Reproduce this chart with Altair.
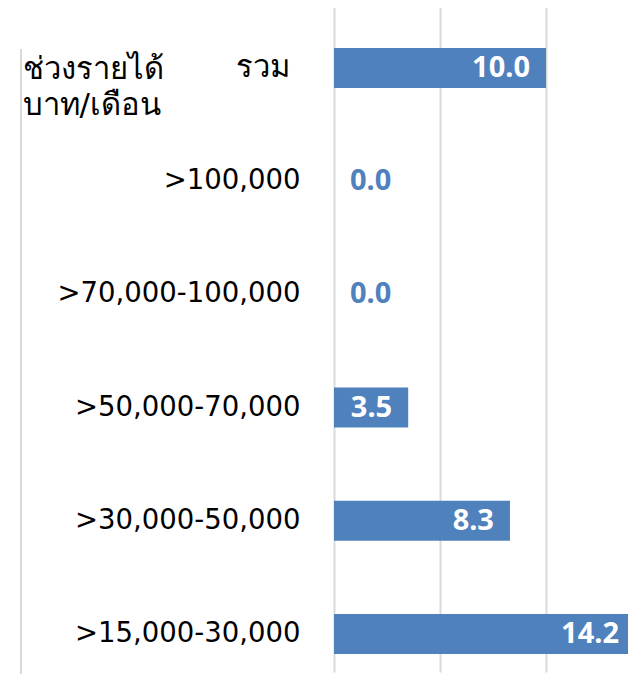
import altair as alt
import pandas as pd

categories = ["รวม", ">100,000", ">70,000-100,000", ">50,000-70,000", ">30,000-50,000", ">15,000-30,000"]
values = [10.0, 0.0, 0.0, 3.5, 8.3, 14.2]
labels = [f"{v:.1f}" for v in values]
title_lines = ["ช่วงรายได้", "บาท/เดือน"]
total_cat = "รวม"

df = pd.DataFrame({"cat": categories, "val": values, "lab": labels})

BLUE = "#4F81BD"
GRID = "#d9d9d9"
LABEL_FONT = "DejaVu Sans"
VALUE_FONT = "Noto Sans"

y_enc = alt.Y(
    "cat:N",
    sort=categories,
    scale=alt.Scale(range=[2.04, 675.9], paddingInner=0.6466, paddingOuter=0.3),
    axis=alt.Axis(
        domain=False, ticks=False, grid=False,
        labelFontSize=27.5,
        labelExpr=f"datum.value == '{total_cat}' ? '' : datum.value",
        labelFont=LABEL_FONT, labelColor="#000000",
        labelPadding=34, labelLimit=0,
        title=title_lines, titleAngle=0, titleAlign="left", titleBaseline="alphabetic",
        titleX=-312, titleY=66, titleFontSize=31, titleFontWeight="normal",
        titleFont=LABEL_FONT, titleColor="#000000", titleLineHeight=36,
    ),
)
x_enc = alt.X(
    "val:Q",
    scale=alt.Scale(domain=[0, 13.868], nice=False, zero=True),
    axis=alt.Axis(values=[0, 5, 10], labels=False, ticks=False, domain=False,
                  grid=True, gridColor=GRID, gridWidth=2, title=None),
)
y_plain = alt.Y("cat:N", sort=categories)

base = alt.Chart(df)
bars = base.mark_bar(color=BLUE).encode(x=x_enc, y=y_enc)
pos_text = base.transform_filter("datum.val > 0").mark_text(
    align="right", baseline="middle", dx=-16, color="white",
    fontWeight="bold", fontSize=29, font=VALUE_FONT,
).encode(x="val:Q", y=y_plain, text="lab:N")
zero_text = base.transform_filter("datum.val == 0").mark_text(
    align="left", baseline="middle", dx=16, color=BLUE,
    fontWeight="bold", fontSize=29, font=VALUE_FONT,
).encode(x="val:Q", y=y_plain, text="lab:N")
total_label = base.transform_filter(f"datum.cat == '{total_cat}'").mark_text(
    align="right", baseline="middle", color="#000000", fontSize=31, font=LABEL_FONT,
).encode(x=alt.value(-44), y=y_plain, text="cat:N")

left_rule = alt.Chart(pd.DataFrame({"a": [0]})).mark_rule(color=GRID, strokeWidth=2).encode(
    x=alt.value(-313), y=alt.value(37), y2=alt.value(662)
)

chart = alt.layer(left_rule, bars, pos_text, zero_text, total_label).properties(
    width=294, height=662,
    padding={"left": 326, "top": 4, "right": 0, "bottom": 0},
    autosize=alt.AutoSizeParams(type="none"),
).configure_view(stroke=None)

chart.save("out.html", embed_options={"renderer": "svg", "actions": False})
